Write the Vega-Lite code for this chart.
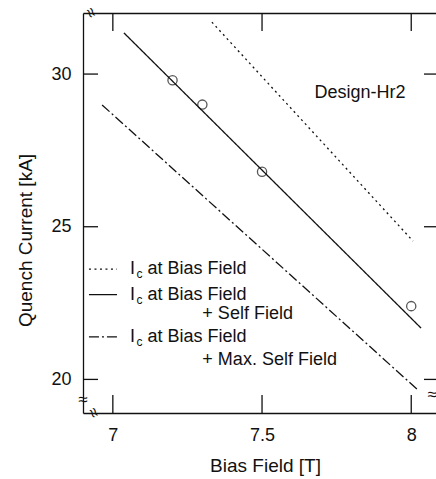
{
  "$schema": "https://vega.github.io/schema/vega-lite/v6.json",
  "width": 353,
  "height": 400,
  "autosize": {"type": "none"},
  "padding": {"left": 83, "top": 13, "right": 0, "bottom": 66},
  "background": "white",
  "resolve": {"axis": {"x": "independent", "y": "independent"}},
  "config": {
    "view": {"stroke": null},
    "font": "Liberation Sans",
    "axis": {
      "grid": false,
      "ticks": false,
      "domainColor": "#111",
      "domainWidth": 1.3,
      "labelColor": "#111",
      "titleColor": "#111",
      "labelFontSize": 17,
      "titleFontSize": 19,
      "titleFontWeight": "normal",
      "labelFont": "Liberation Sans",
      "titleFont": "Liberation Sans"
    }
  },
  "datasets": {
    "lines": [
      {"series": "bias", "x": 7.332, "y": 31.7},
      {"series": "bias", "x": 8.006, "y": 24.53},
      {"series": "self", "x": 7.037, "y": 31.35},
      {"series": "self", "x": 8.033, "y": 21.68},
      {"series": "max", "x": 6.964, "y": 28.99},
      {"series": "max", "x": 8.023, "y": 19.65}
    ],
    "points": [
      {"x": 7.2, "y": 29.8},
      {"x": 7.3, "y": 29.0},
      {"x": 7.5, "y": 26.8},
      {"x": 8.0, "y": 22.4}
    ],
    "ticks": [
      {"side": "bottom", "x": 7, "y": 18.9},
      {"side": "bottom", "x": 7.5, "y": 18.9},
      {"side": "bottom", "x": 8, "y": 18.9},
      {"side": "top", "x": 7, "y": 32},
      {"side": "top", "x": 7.5, "y": 32},
      {"side": "top", "x": 8, "y": 32},
      {"side": "left", "x": 6.9, "y": 20},
      {"side": "left", "x": 6.9, "y": 25},
      {"side": "left", "x": 6.9, "y": 30},
      {"side": "right", "x": 8.083, "y": 20},
      {"side": "right", "x": 8.083, "y": 25},
      {"side": "right", "x": 8.083, "y": 30}
    ],
    "legendLines": [
      {"series": "bias", "x": 6.92, "y": 23.61},
      {"series": "bias", "x": 7.014, "y": 23.61},
      {"series": "self", "x": 6.92, "y": 22.78},
      {"series": "self", "x": 7.014, "y": 22.78},
      {"series": "max", "x": 6.92, "y": 21.39},
      {"series": "max", "x": 7.014, "y": 21.39}
    ],
    "labels": [
      {"kind": "main", "x": 7.0576, "y": 23.61, "text": "I"},
      {"kind": "sub", "x": 7.079, "y": 23.61, "text": "c"},
      {"kind": "main", "x": 7.116, "y": 23.61, "text": "at Bias Field"},
      {"kind": "main", "x": 7.0576, "y": 22.78, "text": "I"},
      {"kind": "sub", "x": 7.079, "y": 22.78, "text": "c"},
      {"kind": "main", "x": 7.116, "y": 22.78, "text": "at Bias Field"},
      {"kind": "main", "x": 7.3, "y": 22.14, "text": "+ Self Field"},
      {"kind": "main", "x": 7.0576, "y": 21.39, "text": "I"},
      {"kind": "sub", "x": 7.079, "y": 21.39, "text": "c"},
      {"kind": "main", "x": 7.116, "y": 21.39, "text": "at Bias Field"},
      {"kind": "main", "x": 7.3, "y": 20.64, "text": "+ Max. Self Field"},
      {"kind": "main", "x": 7.676, "y": 29.38, "text": "Design-Hr2"}
    ],
    "breaks": [
      {"axis": "x", "x": 6.925, "y": 32},
      {"axis": "x", "x": 6.934, "y": 18.9},
      {"axis": "y", "x": 6.9, "y": 19.32},
      {"axis": "y", "x": 8.07, "y": 19.5}
    ]
  },
  "layer": [
    {
      "data": {"name": "lines"},
      "mark": {"type": "line", "color": "#111", "strokeWidth": 1.3, "clip": true},
      "encoding": {
        "x": {
          "field": "x", "type": "quantitative",
          "scale": {"domain": [6.9, 8.083], "nice": false, "zero": false},
          "axis": {
            "orient": "bottom", "values": [7, 7.5, 8],
            "labelExpr": "datum.value === 7.5 ? '7.5' : '' + datum.value",
            "ticks": false, "labelPadding": 13, "labelFontSize": 18,
            "title": "Bias Field [T]",
            "titleX": 182, "titleY": 52, "titleBaseline": "middle", "titleAlign": "center"
          }
        },
        "y": {
          "field": "y", "type": "quantitative",
          "scale": {"domain": [18.9, 32], "nice": false, "zero": false},
          "axis": {
            "orient": "left", "values": [20, 25, 30],
            "ticks": false, "labelPadding": 12, "labelFontSize": 18,
            "title": "Quench Current [kA]",
            "titleX": -58, "titleY": 227, "titleAngle": -90,
            "titleBaseline": "middle", "titleAlign": "center"
          }
        },
        "detail": {"field": "series"},
        "strokeDash": {
          "field": "series", "type": "nominal",
          "scale": {"domain": ["bias", "self", "max"], "range": [[2, 3.5], [1, 0], [10, 3, 2, 3]]},
          "legend": null
        }
      }
    },
    {
      "data": {"name": "points"},
      "mark": {"type": "point", "shape": "circle", "filled": false, "color": "#111", "size": 85, "strokeWidth": 1.3},
      "encoding": {
        "x": {
          "field": "x", "type": "quantitative",
          "axis": {"orient": "top", "values": [7, 7.5, 8], "labels": false, "ticks": false, "domain": true, "title": null}
        },
        "y": {"field": "y", "type": "quantitative", "axis": null}
      }
    },
    {
      "data": {"name": "ticks"},
      "transform": [{"filter": "datum.side === 'bottom'"}],
      "mark": {"type": "rule", "color": "#111", "strokeWidth": 1.3, "y2Offset": -18},
      "encoding": {
        "x": {"field": "x", "type": "quantitative", "axis": null},
        "y": {"field": "y", "type": "quantitative", "axis": null},
        "y2": {"field": "y"}
      }
    },
    {
      "data": {"name": "ticks"},
      "transform": [{"filter": "datum.side === 'top'"}],
      "mark": {"type": "rule", "color": "#111", "strokeWidth": 1.3, "y2Offset": 18},
      "encoding": {
        "x": {"field": "x", "type": "quantitative", "axis": null},
        "y": {"field": "y", "type": "quantitative", "axis": null},
        "y2": {"field": "y"}
      }
    },
    {
      "data": {"name": "ticks"},
      "transform": [{"filter": "datum.side === 'left'"}],
      "mark": {"type": "rule", "color": "#111", "strokeWidth": 1.3, "x2Offset": 15},
      "encoding": {
        "x": {"field": "x", "type": "quantitative", "axis": null},
        "x2": {"field": "x"},
        "y": {"field": "y", "type": "quantitative", "axis": null}
      }
    },
    {
      "data": {"name": "ticks"},
      "transform": [{"filter": "datum.side === 'right'"}],
      "mark": {"type": "rule", "color": "#111", "strokeWidth": 1.3, "x2Offset": -12},
      "encoding": {
        "x": {"field": "x", "type": "quantitative", "axis": null},
        "x2": {"field": "x"},
        "y": {"field": "y", "type": "quantitative", "axis": null}
      }
    },
    {
      "data": {"name": "legendLines"},
      "mark": {"type": "line", "color": "#111", "strokeWidth": 1.3},
      "encoding": {
        "x": {"field": "x", "type": "quantitative", "axis": null},
        "y": {"field": "y", "type": "quantitative", "axis": null},
        "detail": {"field": "series"},
        "strokeDash": {
          "field": "series", "type": "nominal",
          "scale": {"domain": ["bias", "self", "max"], "range": [[3, 3], [1, 0], [10, 3, 2, 3]]},
          "legend": null
        }
      }
    },
    {
      "data": {"name": "labels"},
      "transform": [{"filter": "datum.kind === 'main'"}],
      "mark": {"type": "text", "align": "left", "baseline": "middle", "fontSize": 18, "color": "#111", "font": "Liberation Sans"},
      "encoding": {
        "x": {"field": "x", "type": "quantitative", "axis": null},
        "y": {"field": "y", "type": "quantitative", "axis": null},
        "text": {"field": "text"}
      }
    },
    {
      "data": {"name": "labels"},
      "transform": [{"filter": "datum.kind === 'sub'"}],
      "mark": {"type": "text", "align": "left", "baseline": "middle", "fontSize": 12, "dy": 5, "color": "#111", "font": "Liberation Sans"},
      "encoding": {
        "x": {"field": "x", "type": "quantitative", "axis": null},
        "y": {"field": "y", "type": "quantitative", "axis": null},
        "text": {"field": "text"}
      }
    },
    {
      "data": {"name": "breaks"},
      "transform": [{"filter": "datum.axis === 'y'"}],
      "mark": {"type": "text", "align": "center", "baseline": "middle", "fontSize": 17, "color": "#111", "text": "≈"},
      "encoding": {
        "x": {"field": "x", "type": "quantitative", "axis": null},
        "y": {"field": "y", "type": "quantitative", "axis": null}
      }
    },
    {
      "data": {"name": "breaks"},
      "transform": [{"filter": "datum.axis === 'x'"}],
      "mark": {"type": "text", "align": "center", "baseline": "middle", "fontSize": 17, "angle": 60, "color": "#111", "text": "≈"},
      "encoding": {
        "x": {"field": "x", "type": "quantitative", "axis": null},
        "y": {"field": "y", "type": "quantitative", "axis": null}
      }
    }
  ]
}
